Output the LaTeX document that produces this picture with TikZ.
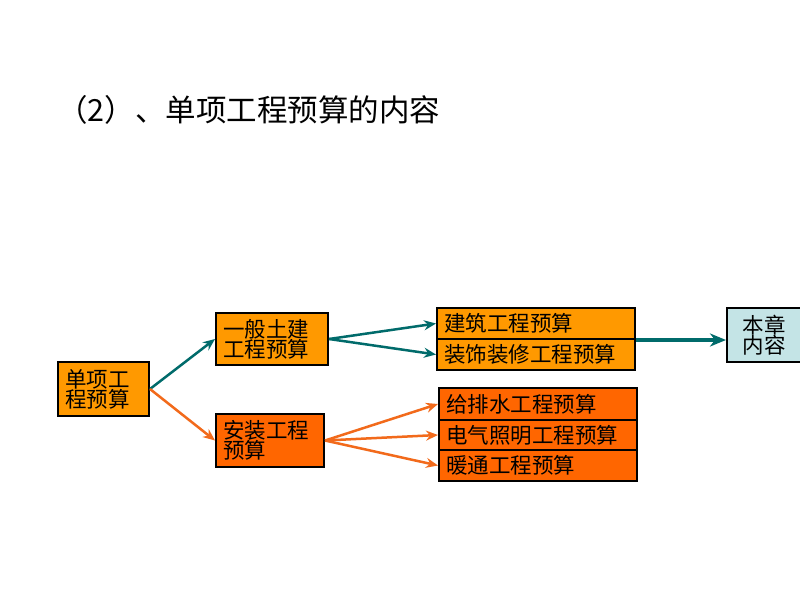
\documentclass[tikz,border=0pt]{standalone}
\usepackage{fontspec}
\newfontfamily\cjk{Noto Sans CJK SC}
\usetikzlibrary{arrows.meta}
\definecolor{orA}{HTML}{FF9900}
\definecolor{orB}{HTML}{FF6600}
\definecolor{tealA}{HTML}{006B6B}
\definecolor{orArrow}{HTML}{F26A1B}
\definecolor{lblue}{HTML}{C4E4E6}
\tikzset{
  box/.style={draw=black, line width=2pt, anchor=north west, inner xsep=7pt, inner ysep=0pt,
    align=left, font=\cjk\fontsize{21.5}{20}\selectfont},
  conn/.style={line width=2.5pt, -{Stealth[length=12pt,width=10pt,inset=4pt]}},
}
\begin{document}
\begin{tikzpicture}[x=1pt,y=-1pt]
\useasboundingbox (0,0) rectangle (800,600);
\fill[white] (0,0) rectangle (800,600);
\node[anchor=west, inner sep=0pt, font=\cjk\fontsize{30.5}{30}\selectfont] (title) at (57,110) {（2）、单项工程预算的内容};

\node[box, fill=orA, minimum width=91pt, minimum height=54pt, text width=77pt] (a) at (57,361) {单项工\\程预算};
\node[box, fill=orA, minimum width=112pt, minimum height=52pt, text width=98pt] (b) at (215,312) {一般土建\\工程预算};
\node[box, fill=orB, minimum width=108pt, minimum height=53pt, text width=94pt] (c) at (215,413) {安装工程\\预算};

\node[box, fill=orA, minimum width=198pt, minimum height=31pt, text width=184pt] (d1) at (436,307) {建筑工程预算};
\node[box, fill=orA, minimum width=198pt, minimum height=31pt, text width=184pt] (d2) at (436,338) {装饰装修工程预算};

\node[box, fill=orB, minimum width=198pt, minimum height=32pt, text width=184pt] (e1) at (438,387) {给排水工程预算};
\node[box, fill=orB, minimum width=198pt, minimum height=30pt, text width=184pt] (e2) at (438,419) {电气照明工程预算};
\node[box, fill=orB, minimum width=198pt, minimum height=31pt, text width=184pt] (e3) at (438,449) {暖通工程预算};

\node[box, fill=lblue, minimum width=74pt, minimum height=54pt, align=center, inner xsep=0pt, text width=74pt] (f) at (726,307) {本章\\内容};

\draw[conn, tealA] (a.east) -- (b.west);
\draw[conn, orArrow] (a.east) -- (c.west);
\draw[conn, tealA] (b.east) -- (d1.west);
\draw[conn, tealA] (b.east) -- (d2.west);
\draw[conn, orArrow] (c.east) -- (e1.west);
\draw[conn, orArrow] (c.east) -- (e2.west);
\draw[conn, orArrow] (c.east) -- (e3.west);
\draw[tealA, line width=3.5pt, -{Stealth[length=16pt,width=13pt,inset=5pt]}] (d1.south east) -- (d1.south east -| f.west);
\end{tikzpicture}
\end{document}
